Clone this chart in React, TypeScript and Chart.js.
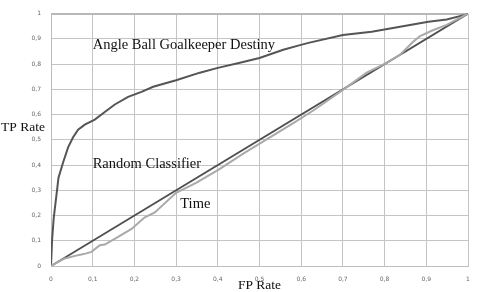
import React, { useEffect, useRef } from "react";
import { Chart, registerables } from "chart.js";

Chart.register(...registerables);

// Angle Ball Goalkeeper Destiny ROC curve
const angleX = [0, 0.0025, 0.0065, 0.013, 0.018, 0.029, 0.041, 0.053, 0.065, 0.081, 0.105, 0.129, 0.153, 0.185, 0.217, 0.245, 0.30, 0.357, 0.40, 0.453, 0.50, 0.557, 0.597, 0.62, 0.70, 0.769, 0.837, 0.905, 0.949, 0.997, 1];
const angleY = [0, 0.10, 0.19, 0.28, 0.35, 0.41, 0.47, 0.51, 0.54, 0.56, 0.58, 0.61, 0.64, 0.67, 0.69, 0.71, 0.736, 0.766, 0.785, 0.805, 0.824, 0.857, 0.875, 0.885, 0.915, 0.928, 0.948, 0.968, 0.977, 0.997, 1];

// Time ROC curve
const timeX = [0, 0.033, 0.065, 0.085, 0.097, 0.117, 0.129, 0.161, 0.193, 0.225, 0.249, 0.30, 0.349, 0.405, 0.461, 0.52, 0.58, 0.629, 0.70, 0.757, 0.805, 0.837, 0.869, 0.885, 0.917, 0.949, 1];
const timeY = [0, 0.03, 0.043, 0.05, 0.056, 0.082, 0.085, 0.115, 0.147, 0.193, 0.212, 0.29, 0.33, 0.385, 0.445, 0.505, 0.565, 0.616, 0.698, 0.766, 0.805, 0.837, 0.889, 0.911, 0.935, 0.955, 1];

// Random classifier
const randomX = [0, 1];
const randomY = [0, 1];

const labels = [
  { text: "Angle Ball Goalkeeper Destiny", x: 0.1, y: 0.875 },
  { text: "Random Classifier", x: 0.1, y: 0.405 },
  { text: "Time", x: 0.31, y: 0.245 },
];

const toPts = (xs: number[], ys: number[]) => xs.map((x, i) => ({ x, y: ys[i] }));
const fmt = (v: number) => {
  const r = Math.round(v * 10) / 10;
  if (r === 0) return "0";
  if (r === 1) return "1";
  return r.toFixed(1).replace(".", ",");
};

const textPlugin = {
  id: "texts",
  afterDatasetsDraw(chart: any) {
    const ctx = chart.ctx;
    const xs = chart.scales.x;
    const ys = chart.scales.y;
    ctx.save();
    ctx.fillStyle = "#111";
    ctx.font = "14.5px 'Liberation Serif', serif";
    ctx.textBaseline = "middle";
    ctx.textAlign = "left";
    for (const l of labels) {
      ctx.fillText(l.text, xs.getPixelForValue(l.x), ys.getPixelForValue(l.y));
    }
    ctx.font = "13.5px 'Liberation Serif', serif";
    ctx.fillText("TP Rate", 1, 127);
    ctx.textAlign = "center";
    ctx.fillText("FP Rate", (chart.chartArea.left + chart.chartArea.right) / 2, 285);
    ctx.restore();
  },
};

export default function App() {
  const ref = useRef<HTMLCanvasElement>(null);
  useEffect(() => {
    document.body.style.margin = "0";
    const chart = new Chart(ref.current!, {
      type: "line",
      data: {
        datasets: [
          { data: toPts(timeX, timeY), borderColor: "#a9a9a9", borderWidth: 2, pointRadius: 0, tension: 0 },
          { data: toPts(randomX, randomY), borderColor: "#4f4f4f", borderWidth: 1.8, pointRadius: 0, tension: 0 },
          { data: toPts(angleX, angleY), borderColor: "#555555", borderWidth: 2, pointRadius: 0, tension: 0 },
        ],
      },
      options: {
        animation: false,
        responsive: false,
        devicePixelRatio: 1,
        layout: { padding: { top: 10, right: 12, left: 0, bottom: 0 } },
        plugins: { legend: { display: false }, tooltip: { enabled: false } },
        scales: {
          x: {
            type: "linear",
            min: 0,
            max: 1,
            ticks: { stepSize: 0.1, padding: 10, color: "#666", font: { size: 6, family: "'DejaVu Sans', sans-serif" }, callback: (v: any) => fmt(Number(v)), maxRotation: 0 },
            grid: { color: "#c4c4c4", lineWidth: 1, drawTicks: false },
            border: { display: true, color: "#bdbdbd", width: 1 },
            afterFit: (s: any) => { s.height = 26; },
          },
          y: {
            type: "linear",
            min: 0,
            max: 1,
            ticks: { stepSize: 0.1, padding: 10, color: "#666", font: { size: 6, family: "'DejaVu Sans', sans-serif" }, callback: (v: any) => fmt(Number(v)) },
            grid: { color: (c: any) => (c.tick && c.tick.value === 1 ? "#b8b8b8" : "#c4c4c4"), lineWidth: (c: any) => (c.tick && c.tick.value === 1 ? 2 : 1), drawTicks: false },
            border: { display: true, color: "#bdbdbd", width: 1 },
            afterFit: (s: any) => { s.width = 51; },
          },
        },
      },
      plugins: [textPlugin],
    });
    return () => chart.destroy();
  }, []);
  return (
    <div style={{ width: 480, height: 292, background: "#fff" }}>
      <canvas ref={ref} width={480} height={292} style={{ display: "block" }} />
    </div>
  );
}
